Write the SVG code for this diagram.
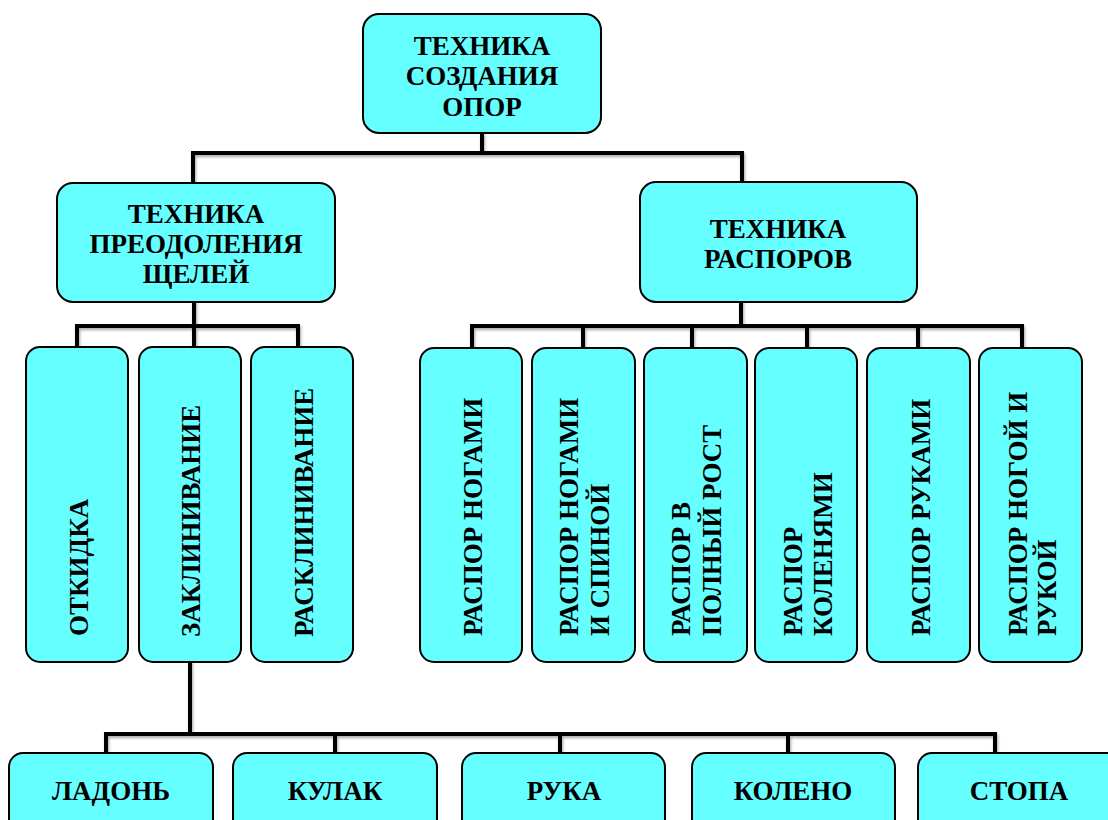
<svg xmlns="http://www.w3.org/2000/svg" width="1108" height="820" viewBox="0 0 1108 820">
<defs>
<filter id="sh" x="-5%" y="-5%" width="110%" height="120%">
<feDropShadow dx="1" dy="2" stdDeviation="1.5" flood-color="#000" flood-opacity="0.35"/>
</filter>
<style>
.box{fill:#66FFFF;stroke:#000;stroke-width:2}
.t{font-family:"Liberation Serif","Times New Roman",serif;font-weight:bold;font-size:27px;fill:#000}
.c{text-anchor:middle}
.conn{fill:none;stroke:#000;stroke-width:4;stroke-linejoin:miter;stroke-linecap:square}
</style>
</defs>
<rect width="1108" height="820" fill="#fff"/>
<g id="connectors" filter="url(#sh)">
<path class="conn" d="M482 134 V153 M193 183 V153 H742 V182"/>
<path class="conn" d="M194 302 V326 M77 347 V326 H298 V347 M194 326 V347"/>
<path class="conn" d="M741 302 V326 M472 348 V326 H1022 V348 M583 326 V348 M692 326 V348 M807 326 V348 M918 326 V348"/>
<path class="conn" d="M190 663 V734 M106 753 V734 H995 V753 M335 734 V753 M560 734 V753 M788 734 V753"/>
</g>
<g id="n-root"><rect class="box" x="363" y="14" width="238" height="119" rx="16"/>
<text class="t c" x="482" y="55">ТЕХНИКА</text><text class="t c" x="482" y="85">СОЗДАНИЯ</text><text class="t c" x="482" y="116">ОПОР</text></g>
<g id="n-gaps"><rect class="box" x="57" y="183" width="278" height="119" rx="16"/>
<text class="t c" x="196" y="223">ТЕХНИКА</text><text class="t c" x="196" y="253">ПРЕОДОЛЕНИЯ</text><text class="t c" x="196" y="283">ЩЕЛЕЙ</text></g>
<g id="n-spread"><rect class="box" x="640" y="182" width="277" height="120" rx="16"/>
<text class="t c" x="778" y="238">ТЕХНИКА</text><text class="t c" x="778" y="268">РАСПОРОВ</text></g>
<g id="n-otkidka"><rect class="box" x="26" y="347" width="102" height="315" rx="14"/>
<text class="t" transform="translate(88,636) rotate(-90)">ОТКИДКА</text></g>
<g id="n-zaklin"><rect class="box" x="139" y="347" width="102" height="315" rx="14"/>
<text class="t" transform="translate(200,637) rotate(-90)">ЗАКЛИНИВАНИЕ</text></g>
<g id="n-rasklin"><rect class="box" x="251" y="347" width="102" height="315" rx="14"/>
<text class="t" transform="translate(313,637) rotate(-90)">РАСКЛИНИВАНИЕ</text></g>
<g id="n-r1"><rect class="box" x="420" y="348" width="102" height="314" rx="14"/>
<text class="t" transform="translate(482,636) rotate(-90)">РАСПОР НОГАМИ</text></g>
<g id="n-r2"><rect class="box" x="532" y="348" width="103" height="314" rx="14"/>
<text class="t" transform="translate(578,636) rotate(-90)">РАСПОР НОГАМИ</text>
<text class="t" transform="translate(609,636) rotate(-90)">И СПИНОЙ</text></g>
<g id="n-r3"><rect class="box" x="644" y="348" width="103" height="314" rx="14"/>
<text class="t" transform="translate(690,636) rotate(-90)">РАСПОР В</text>
<text class="t" transform="translate(721,636) rotate(-90)">ПОЛНЫЙ РОСТ</text></g>
<g id="n-r4"><rect class="box" x="755" y="348" width="102" height="314" rx="14"/>
<text class="t" transform="translate(802,636) rotate(-90)">РАСПОР</text>
<text class="t" transform="translate(832,636) rotate(-90)">КОЛЕНЯМИ</text></g>
<g id="n-r5"><rect class="box" x="867" y="348" width="103" height="314" rx="14"/>
<text class="t" transform="translate(930,636) rotate(-90)">РАСПОР РУКАМИ</text></g>
<g id="n-r6"><rect class="box" x="979" y="348" width="103" height="314" rx="14"/>
<text class="t" transform="translate(1027,636) rotate(-90)">РАСПОР НОГОЙ И</text>
<text class="t" transform="translate(1056,636) rotate(-90)">РУКОЙ</text></g>
<g id="n-ladon"><rect class="box" x="9" y="753" width="204" height="90" rx="14"/>
<text class="t c" x="111" y="800">ЛАДОНЬ</text></g>
<g id="n-kulak"><rect class="box" x="233" y="753" width="204" height="90" rx="14"/>
<text class="t c" x="335" y="800">КУЛАК</text></g>
<g id="n-ruka"><rect class="box" x="462" y="753" width="203" height="90" rx="14"/>
<text class="t c" x="564" y="800">РУКА</text></g>
<g id="n-koleno"><rect class="box" x="692" y="753" width="203" height="90" rx="14"/>
<text class="t c" x="793" y="800">КОЛЕНО</text></g>
<g id="n-stopa"><rect class="box" x="918" y="753" width="203" height="90" rx="14"/>
<text class="t c" x="1019" y="800">СТОПА</text></g>
</svg>
